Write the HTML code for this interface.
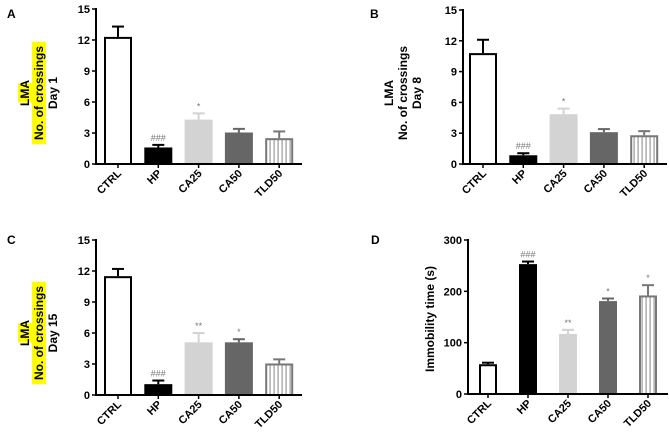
<!DOCTYPE html>
<html><head><meta charset="utf-8"><style>
body{margin:0;background:#fff;width:669px;height:433px;overflow:hidden}
svg{display:block;font-family:"Liberation Sans",Arial,sans-serif;font-weight:bold}
</style></head><body>
<svg id="fig" width="669" height="433" viewBox="0 0 669 433">
<defs><pattern id="stripes" width="4" height="4" patternUnits="userSpaceOnUse"><rect width="4" height="4" fill="#fff"/><rect x="1.5" width="1.2" height="4" fill="#999"/></pattern></defs>
</svg>
<script>
const categories = ["CTRL","HP","CA25","CA50","TLD50"];
const valuesA = [12.3,1.6,4.3,3.05,2.5];
const errorsA = [1.0,0.25,0.6,0.35,0.65];
const marksA = ["","###","*","",""];
const valuesB = [10.8,0.85,4.85,3.1,2.8];
const errorsB = [1.3,0.2,0.55,0.3,0.4];
const marksB = ["","###","*","",""];
const valuesC = [11.5,1.05,5.1,5.1,3.05];
const errorsC = [0.7,0.35,0.9,0.3,0.4];
const marksC = ["","###","**","*",""];
const valuesD = [58,253,117,181,192];
const errorsD = [3,5,8,5,20];
const marksD = ["","###","**","*","*"];
const ticksLMA = [0,3,6,9,12,15];
const ticksD = [0,100,200,300];

const svg=document.getElementById('fig');
const NS="http://www.w3.org/2000/svg";
function mk(tag,attrs,parent){const e=document.createElementNS(NS,tag);for(const k in attrs)e.setAttribute(k,attrs[k]);(parent||svg).appendChild(e);return e;}
const fills=["#fff","#000","#d3d3d3","#666","url(#stripes)"];
const strokes=["#000","#000","#d3d3d3","#666","#777"];

function panel(p){
  const g=mk('g',{});
  
  
  const y=v=>p.y0-(v/p.max)*(p.y0-p.y1);
  const x=i=>p.x0+p.first+i*p.step;
  const lt=mk('text',{x:p.lx,y:p.ly,'font-size':12},g);lt.textContent=p.id;
  
  
  // bars
  categories.forEach((c,i)=>{
    const v=p.vals[i],e=p.errs[i],cx=x(i);
    const sw=(i===0||i===4)?2:0;
    const eb=mk('g',{},g);
    
    
    mk('line',{x1:cx,x2:cx,y1:y(v),y2:y(v+e),stroke:strokes[i]==="#d3d3d3"?"#d3d3d3":strokes[i],'stroke-width':2},eb);
    mk('line',{x1:cx-6,x2:cx+6,y1:y(v+e),y2:y(v+e),stroke:strokes[i],'stroke-width':2},eb);
    const r=mk('rect',{x:cx-p.bw/2+sw/2,y:y(v)+sw/2,width:p.bw-sw,height:Math.max(0,p.y0-y(v)-sw/2),fill:fills[i],stroke:sw?strokes[i]:'none','stroke-width':sw},g);
    
    
    if(p.marks[i]){const t=mk('text',{x:cx,y:y(v+e)-4,'text-anchor':'middle','font-size':9,'font-weight':'normal',fill:'#777'},g);t.textContent=p.marks[i];
      
      }
    const cl=mk('text',{'text-anchor':'end','font-size':11,transform:`translate(${cx+4},${p.y0+10}) rotate(-45)`},g);
    cl.textContent=c;
    
    
    mk('line',{x1:cx,x2:cx,y1:p.y0,y2:p.y0+4,stroke:'#000','stroke-width':1.5},g);
  });
  // axes
  const ax=mk('g',{},g);
  
  
  mk('line',{x1:p.x0,x2:p.x0,y1:p.y1-1,y2:p.y0+1,stroke:'#000','stroke-width':2},ax);
  mk('line',{x1:p.x0-1,x2:p.xe,y1:p.y0,y2:p.y0,stroke:'#000','stroke-width':2},ax);
  p.ticks.forEach(t=>{
    mk('line',{x1:p.x0-4,x2:p.x0,y1:y(t),y2:y(t),stroke:'#000','stroke-width':1.5},ax);
    const tl=mk('text',{x:p.x0-6,y:y(t)+4,'text-anchor':'end','font-size':11},ax);tl.textContent=t;
    
    
  });
  // y label
  const yl=mk('g',{transform:`translate(${p.ylx},${p.yly}) rotate(-90)`},g);
  
  
  p.ylines.forEach((s,k)=>{
    const ty=(k-(p.ylines.length-1)/2)*14+4;
    if(p.hl&&k<2){const w=s.length*6.4;mk('rect',{x:-w/2,y:ty-11,width:w,height:14,fill:'#ffff00'},yl);}
    const t=mk('text',{x:0,y:ty,'text-anchor':'middle','font-size':12,'font-weight':p.hl?'bold':'bold'},yl);t.textContent=s;
  });
}
panel({id:'A',lx:7,ly:18,x0:96,y0:164,y1:9,max:15,xe:302,first:22,step:40.3,bw:28,vals:valuesA,errs:errorsA,marks:marksA,ticks:ticksLMA,ylx:39,yly:93,ylines:["LMA","No. of crossings","Day 1"],hl:true});
panel({id:'B',lx:370,ly:18,x0:463,y0:164,y1:10,max:15,xe:667,first:20,step:40.3,bw:28,vals:valuesB,errs:errorsB,marks:marksB,ticks:ticksLMA,ylx:403,yly:93,ylines:["LMA","No. of crossings","Day 8"],hl:false});
panel({id:'C',lx:7,ly:244,x0:96,y0:395,y1:240,max:15,xe:302,first:22,step:40.3,bw:28,vals:valuesC,errs:errorsC,marks:marksC,ticks:ticksLMA,ylx:39,yly:333,ylines:["LMA","No. of crossings","Day 15"],hl:true});
panel({id:'D',lx:371,ly:244,x0:468,y0:394,y1:240,max:300,xe:668,first:20,step:40,bw:18,vals:valuesD,errs:errorsD,marks:marksD,ticks:ticksD,ylx:430,yly:319,ylines:["Immobility time (s)"],hl:false});
</script>
</body></html>
